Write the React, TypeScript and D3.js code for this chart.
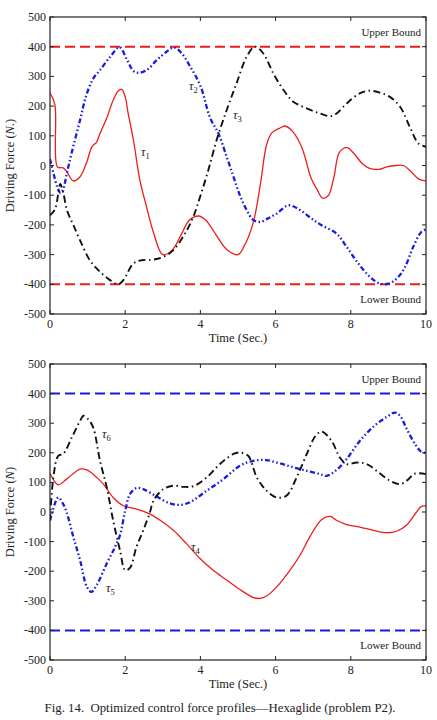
import * as d3 from 'd3';

type Pt = [number, number];

// top panel (problem P2, actuators 1-3)
const tau1: Pt[] = [[0,245],[0.13,205],[0.2,-5],[0.35,-8],[0.45,-22],[0.62,-52],[0.8,-38],[0.98,12],[1.11,62],[1.24,79],[1.33,108],[1.51,160],[1.68,220],[1.82,252],[1.91,256],[2.0,231],[2.08,175],[2.22,85],[2.39,-49],[2.57,-140],[2.75,-225],[3.0,-300],[3.25,-285],[3.5,-230],[3.7,-185],[3.95,-170],[4.15,-185],[4.4,-230],[4.7,-283],[5.0,-300],[5.15,-275],[5.4,-195],[5.6,-60],[5.76,70],[5.9,110],[6.1,125],[6.25,133],[6.45,115],[6.7,60],[6.95,-45],[7.1,-80],[7.25,-110],[7.4,-102],[7.55,-40],[7.7,45],[7.9,60],[8.1,38],[8.3,7],[8.5,-10],[8.75,-13],[8.95,-5],[9.2,0],[9.4,0],[9.6,-20],[9.8,-45],[10,-52]];
const tau2: Pt[] = [[0,22],[0.1,-30],[0.2,-75],[0.28,-93],[0.35,-80],[0.45,-25],[0.58,45],[0.8,153],[0.95,230],[1.15,293],[1.33,321],[1.6,366],[1.85,398],[2.05,355],[2.22,318],[2.35,312],[2.57,321],[2.84,355],[3.1,383],[3.3,397],[3.5,378],[3.72,335],[4.0,268],[4.26,160],[4.48,108],[4.7,29],[4.88,-38],[5.05,-100],[5.23,-150],[5.41,-184],[5.6,-190],[5.8,-178],[6.03,-162],[6.34,-134],[6.65,-150],[6.96,-179],[7.22,-201],[7.62,-229],[7.89,-274],[8.2,-330],[8.51,-375],[8.78,-398],[9.0,-398],[9.22,-381],[9.44,-342],[9.66,-274],[9.88,-223],[10,-215]];
const tau3: Pt[] = [[0,-168],[0.13,-148],[0.22,-95],[0.27,-62],[0.35,-90],[0.45,-150],[0.62,-200],[0.8,-252],[1.06,-319],[1.33,-358],[1.6,-386],[1.82,-400],[1.95,-386],[2.22,-330],[2.44,-319],[2.75,-317],[3.01,-308],[3.28,-285],[3.59,-229],[3.81,-173],[3.99,-106],[4.21,-16],[4.43,85],[4.7,187],[4.96,276],[5.23,366],[5.45,400],[5.67,378],[5.94,310],[6.21,254],[6.47,215],[6.83,192],[7.18,175],[7.45,166],[7.62,175],[7.89,209],[8.24,243],[8.51,252],[8.78,245],[9.04,231],[9.31,198],[9.57,130],[9.8,74],[10,63]];

// bottom panel (actuators 4-6)
const tau4: Pt[] = [[0,130],[0.22,92],[0.44,111],[0.8,145],[0.98,142],[1.24,117],[1.42,94],[1.68,49],[1.95,21],[2.3,10],[2.66,-7],[2.93,-28],[3.28,-62],[3.63,-107],[3.99,-157],[4.34,-197],[4.7,-230],[5.05,-262],[5.41,-289],[5.59,-292],[5.76,-284],[6.03,-253],[6.38,-197],[6.65,-146],[6.91,-84],[7.22,-26],[7.45,-15],[7.62,-28],[7.89,-43],[8.24,-51],[8.6,-62],[8.95,-70],[9.22,-65],[9.48,-45],[9.75,0],[9.88,19],[10,20]];
const tau5: Pt[] = [[0,-29],[0.22,49],[0.35,27],[0.44,0],[0.62,-84],[0.8,-163],[0.98,-253],[1.1,-270],[1.24,-247],[1.51,-174],[1.73,-118],[1.86,-79],[2.0,4],[2.13,61],[2.3,81],[2.48,77],[2.84,52],[3.19,29],[3.46,24],[3.72,33],[4.17,72],[4.61,111],[5.05,156],[5.41,173],[5.76,175],[6.12,164],[6.47,151],[6.83,139],[7.18,128],[7.36,122],[7.62,142],[7.89,179],[8.24,240],[8.6,288],[8.95,321],[9.18,336],[9.31,325],[9.49,280],[9.71,229],[9.88,203],[10,200]];
const tau6: Pt[] = [[0,-29],[0.09,117],[0.22,190],[0.35,196],[0.58,252],[0.8,308],[0.89,325],[1.02,313],[1.15,285],[1.33,173],[1.51,83],[1.68,-29],[1.86,-129],[2.0,-197],[2.13,-188],[2.3,-118],[2.48,-62],[2.66,0],[2.75,38],[3.01,77],[3.28,89],[3.55,85],[3.81,87],[4.17,117],[4.52,162],[4.88,196],[5.05,201],[5.27,190],[5.5,117],[5.76,72],[6.03,49],[6.29,55],[6.56,117],[6.83,196],[7.05,255],[7.22,272],[7.49,240],[7.71,184],[7.89,162],[8.16,167],[8.42,162],[8.69,139],[9.04,106],[9.31,94],[9.49,106],[9.71,130],[10,128]];

const xTicks = [0, 2, 4, 6, 8, 10];
const yTicks = [-500, -400, -300, -200, -100, 0, 100, 200, 300, 400, 500];
const bounds = [400, -400];

const FONT = '"Liberation Serif", "DejaVu Serif", serif';
const RED = '#ee1c1c';
const BLUE = '#1a1ae0';
const BLACK = '#111';

const L = 50, R = 426;

type Series = { data: Pt[]; color: string; width: number; dash?: string };
type Label = { sub: string; x: number; y: number };

function Panel({ top, bottom, series, boundColor, yLabel, labels }: {
    top: number; bottom: number; series: Series[]; boundColor: string; yLabel: string; labels: Label[];
}) {
    const x = d3.scaleLinear().domain([0, 10]).range([L, R]);
    const y = d3.scaleLinear().domain([-500, 500]).range([bottom, top]);
    const line = d3.line<Pt>().x(d => x(d[0])).y(d => y(d[1])).curve(d3.curveCatmullRom.alpha(0.5));
    const tk = 4;
    const midY = (top + bottom) / 2;

    return (
        <g>
            <defs>
                <clipPath id={`clip${top}`}>
                    <rect x={L} y={top} width={R - L} height={bottom - top} />
                </clipPath>
            </defs>
            <g clipPath={`url(#clip${top})`}>
                {bounds.map(b => (
                    <line key={b} x1={x(0)} x2={x(10)} y1={y(b)} y2={y(b)}
                        stroke={boundColor} strokeWidth={2} strokeDasharray="10,5" />
                ))}
                {series.map((s, i) => (
                    <path key={i} d={line(s.data) || ''} fill="none" stroke={s.color}
                        strokeWidth={s.width} strokeDasharray={s.dash} />
                ))}
            </g>
            <rect x={L} y={top} width={R - L} height={bottom - top} fill="none" stroke="#222" strokeWidth={1.2} />
            {xTicks.map(t => (
                <g key={t}>
                    <line x1={x(t)} x2={x(t)} y1={bottom} y2={bottom - tk} stroke="#222" />
                    <line x1={x(t)} x2={x(t)} y1={top} y2={top + tk} stroke="#222" />
                    <text x={x(t)} y={bottom + 14} textAnchor="middle" fontSize={12}>{t}</text>
                </g>
            ))}
            {yTicks.map(t => (
                <g key={t}>
                    <line x1={L} x2={L + tk} y1={y(t)} y2={y(t)} stroke="#222" />
                    <line x1={R} x2={R - tk} y1={y(t)} y2={y(t)} stroke="#222" />
                    <text x={L - 4} y={y(t) + 4} textAnchor="end" fontSize={12}>{t}</text>
                </g>
            ))}
            <text x={(L + R) / 2} y={bottom + 28} textAnchor="middle" fontSize={12.5}>Time (Sec.)</text>
            <text transform={`translate(14,${midY}) rotate(-90)`} textAnchor="middle" fontSize={12.5}>
                Driving Force (<tspan fontStyle="italic">{yLabel}</tspan>)
            </text>
            <text x={421} y={y(450) + 4} textAnchor="end" fontSize={11}>Upper Bound</text>
            <text x={421} y={y(-450) + 4} textAnchor="end" fontSize={11}>Lower Bound</text>
            {labels.map(l => (
                <text key={l.sub} x={l.x} y={l.y} fontSize={12.5} fontStyle="italic">
                    τ<tspan fontSize={8.5} fontStyle="normal" dy={3}>{l.sub}</tspan>
                </text>
            ))}
        </g>
    );
}

export default function App() {
    const dashDot = '7,3.5,1.5,3.5';
    const dashDotDot = '5,2.5,1.5,2.5,1.5,2.5';
    return (
        <svg width={437} height={720} style={{ position: 'absolute', left: 0, top: 0, background: '#fff' }}
            fontFamily={FONT} fill="#222">
            <Panel top={17} bottom={314} boundColor={RED} yLabel="N." series={[
                { data: tau1, color: RED, width: 1.3 },
                { data: tau2, color: BLUE, width: 2.3, dash: dashDotDot },
                { data: tau3, color: BLACK, width: 1.9, dash: dashDot },
            ]} labels={[
                { sub: '1', x: 141, y: 156 },
                { sub: '2', x: 189, y: 90 },
                { sub: '3', x: 233, y: 119 },
            ]} />
            <Panel top={364} bottom={660} boundColor={BLUE} yLabel="N" series={[
                { data: tau4, color: RED, width: 1.3 },
                { data: tau5, color: BLUE, width: 2.3, dash: dashDotDot },
                { data: tau6, color: BLACK, width: 1.9, dash: dashDot },
            ]} labels={[
                { sub: '6', x: 102, y: 438 },
                { sub: '4', x: 191, y: 551 },
                { sub: '5', x: 106, y: 592 },
            ]} />
            <text x={220} y={712} textAnchor="middle" fontSize={12.8}>
                {'Fig. 14.\u00a0 Optimized control force profiles\u2014Hexaglide (problem P2).'}
            </text>
        </svg>
    );
}
